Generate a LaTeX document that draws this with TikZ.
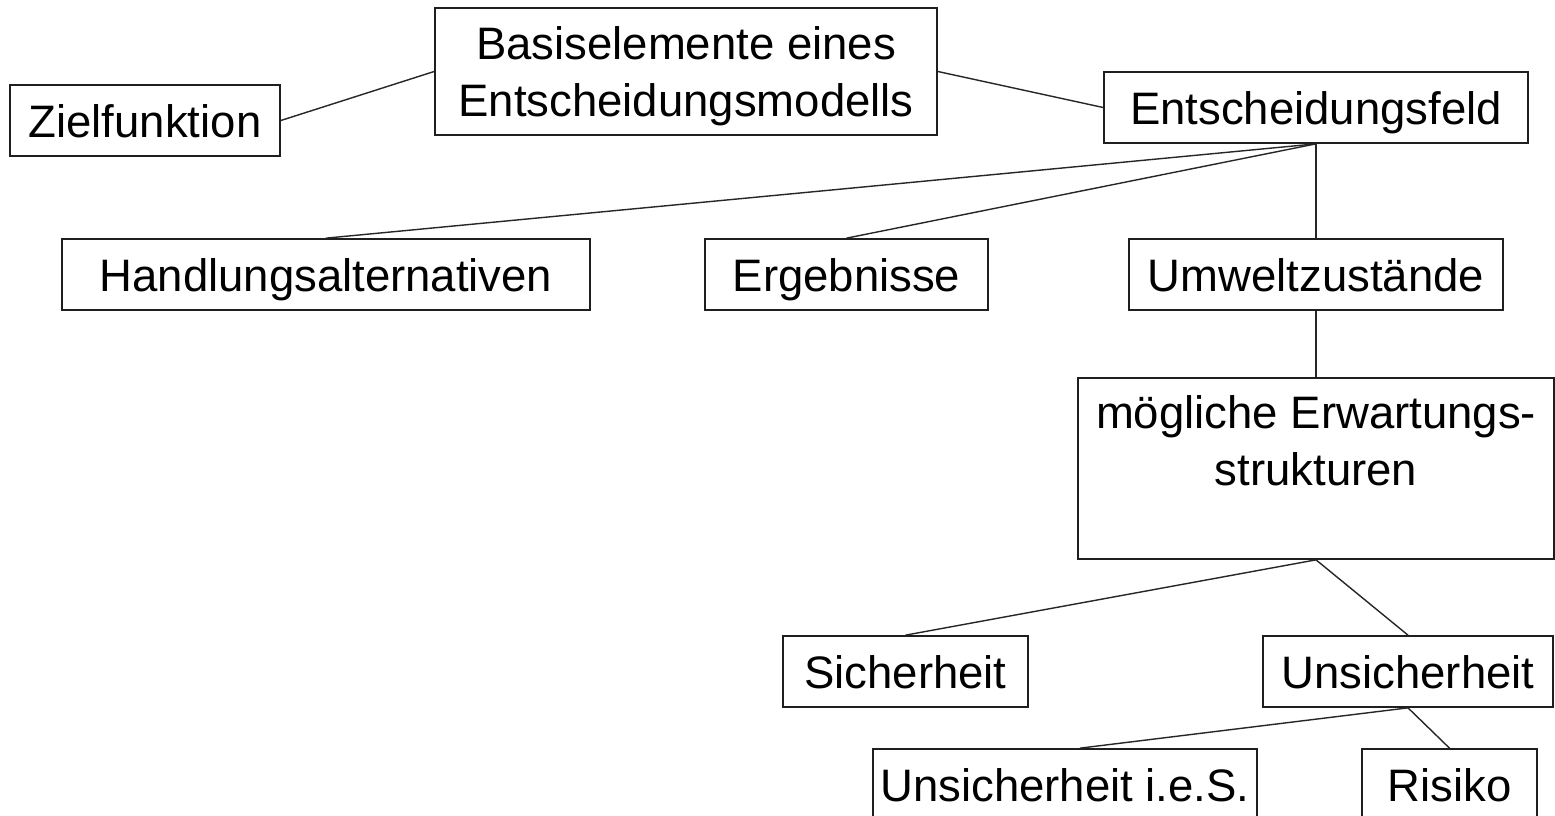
\documentclass[tikz,border=0pt]{standalone}
\usepackage{fontspec}
\setmainfont{Liberation Sans}
\begin{document}
\begin{tikzpicture}[x=1pt,y=-1pt,
  box/.style={draw=black!88, line width=1.7pt, inner sep=0pt, align=center,
    text height=40pt, text depth=7pt,
    font=\fontsize{45.5}{57}\selectfont},
  twolines/.style={text height=97pt},
  threelines/.style={text height=154pt},
  link/.style={draw=black!85, line width=1.4pt}]
\clip (0,0) rectangle (1555,816);
\fill[white] (0,0) rectangle (1555,816);

% top level
\node[box, minimum width=270, minimum height=71] (zf) at (145,120.5) {Zielfunktion};
\node[box, twolines, minimum width=502, minimum height=127] (be) at (686,71.5) {Basiselemente eines\\Entscheidungsmodells};
\node[box, minimum width=424, minimum height=71] (ef) at (1316,107.5) {Entscheidungsfeld};

% elements of the decision field
\node[box, minimum width=528, minimum height=71] (ha) at (326,274.5) {Handlungsalternativen};
\node[box, minimum width=283, minimum height=71] (er) at (846.5,274.5) {Ergebnisse};
\node[box, minimum width=374, minimum height=71] (uz) at (1316,274.5) {Umweltzustände};

% expectation structures
\node[box, threelines, minimum width=476, minimum height=181] (es) at (1316,468.5) {mögliche Erwartungs-\\strukturen\\~};
\node[box, minimum width=245, minimum height=71] (si) at (905.5,671.5) {Sicherheit};
\node[box, minimum width=290, minimum height=71] (us) at (1408,671.5) {Unsicherheit};
\node[box, minimum width=384, minimum height=71] (ui) at (1065,784.5) {Unsicherheit i.e.S.};
\node[box, minimum width=175, minimum height=71] (ri) at (1449.5,784.5) {Risiko};

% connectors
\draw[link] (zf.east) -- (be.west);
\draw[link] (be.east) -- (ef.west);
\draw[link] (ef.south) -- (ha.north);
\draw[link] (ef.south) -- (er.north);
\draw[link] (ef.south) -- (uz.north);
\draw[link] (uz.south) -- (es.north);
\draw[link] (es.south) -- (si.north);
\draw[link] (es.south) -- (us.north);
\draw[link] (us.south) -- ([xshift=15pt]ui.north);
\draw[link] (us.south) -- (ri.north);
\end{tikzpicture}
\end{document}
